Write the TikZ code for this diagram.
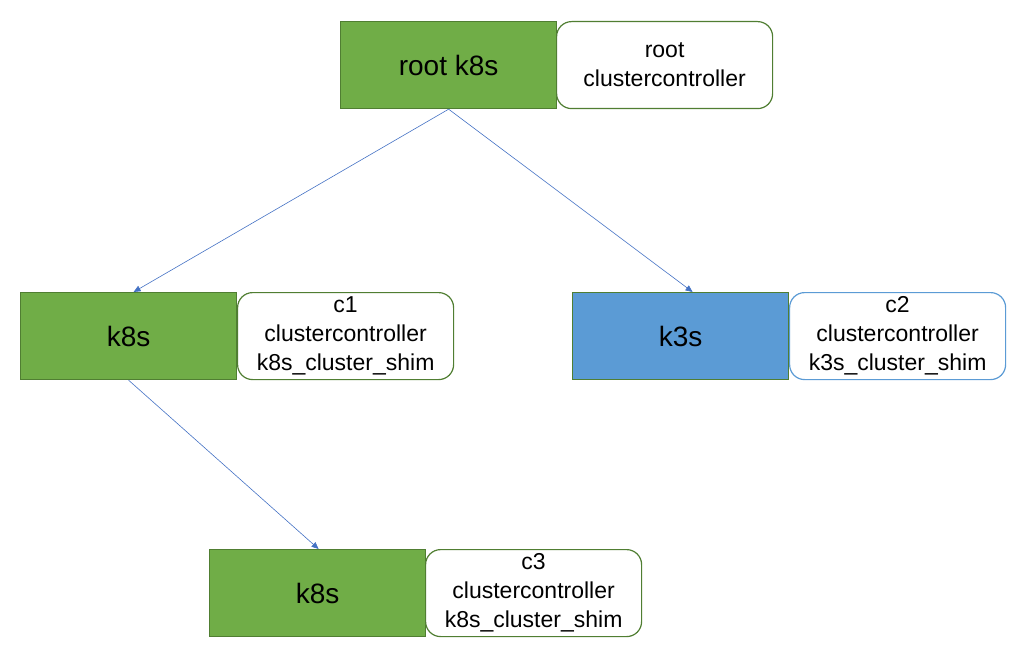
\documentclass[tikz,border=0pt]{standalone}
\usepackage{fontspec}
\setmainfont{Liberation Sans}
\usetikzlibrary{arrows.meta}
\definecolor{gfill}{HTML}{70AD47}
\definecolor{gline}{HTML}{507E32}
\definecolor{bfill}{HTML}{5B9BD5}
\definecolor{bline}{HTML}{5B9BD5}
\definecolor{arr}{HTML}{4472C4}
\tikzset{
  k8box/.style={draw=gline, line width=1.2pt, fill=gfill, minimum width=216pt, minimum height=87pt, inner sep=0pt, font=\fontsize{28}{32}\selectfont, anchor=north west},
  k3box/.style={k8box, fill=bfill},
  infobox/.style={draw=gline, line width=1.2pt, fill=white, rounded corners=15pt, minimum width=216pt, minimum height=87pt, inner sep=0pt, align=center, font=\fontsize{23}{29}\selectfont, anchor=north west},
  infoblue/.style={infobox, draw=bline},
  conn/.style={draw=arr, line width=0.6pt, -{Triangle[length=7pt,width=6pt]}}
}
\begin{document}
\begin{tikzpicture}[x=1pt,y=-1pt]
\useasboundingbox (0,0) rectangle (1024,660);
\node[k8box] (root) at (340,21) {root k8s};
\node[infobox] (rootc) at (556,21) {root\\clustercontroller};
\node[k8box] (c1) at (20,292) {k8s};
\node[infobox] (c1c) at (237,292) {c1\\clustercontroller\\k8s\_cluster\_shim};
\node[k3box] (c2) at (572,292) {k3s};
\node[infoblue] (c2c) at (789,292) {c2\\clustercontroller\\k3s\_cluster\_shim};
\node[k8box] (c3) at (209,549) {k8s};
\node[infobox] (c3c) at (425,549) {c3\\clustercontroller\\k8s\_cluster\_shim};
\draw[conn] (root.south) -- ([xshift=5pt]c1.north);
\draw[conn] (root.south) -- ([xshift=12pt]c2.north);
\draw[conn] (c1.south) -- ([xshift=1pt]c3.north);
\end{tikzpicture}
\end{document}
